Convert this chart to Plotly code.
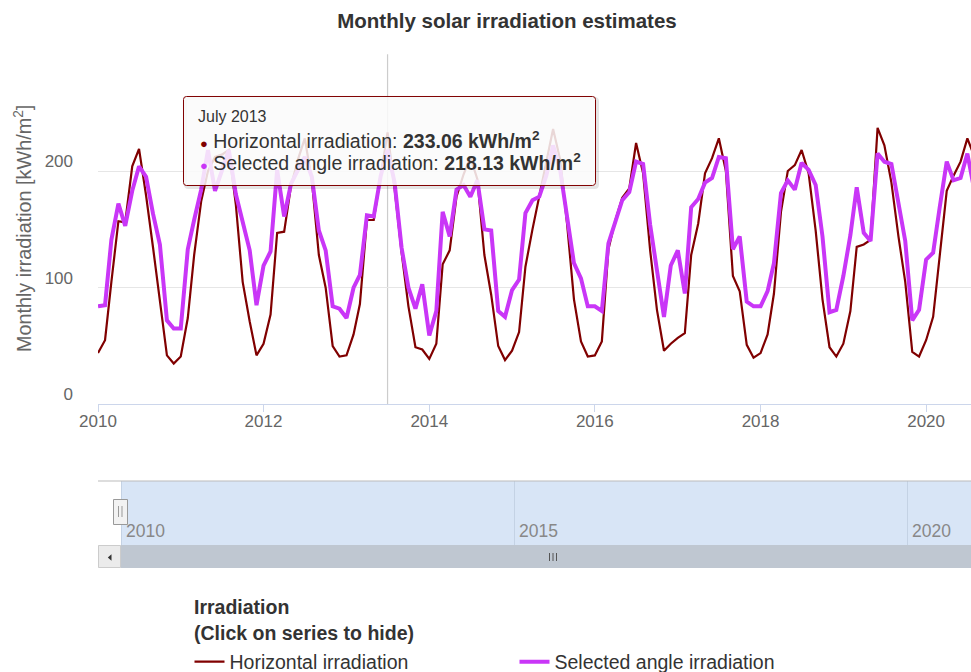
import plotly.graph_objects as go
import pandas as pd

W, H = 971, 672
OFF = 0  # body margin is removed with a post script, so window pixels == figure pixels
FONT = "Liberation Sans, Arial, Helvetica, sans-serif"

# ---------------- data ----------------
start_month = "2010-01-01"
horizontal = [
    44, 55, 105, 157, 156, 204, 219, 179, 134, 89, 42, 35,      # 2010
    41, 74, 128, 174, 200, 212, 214, 218, 171, 105, 71, 42,     # 2011
    52, 77, 147, 148, 187, 210, 228, 192, 128, 100, 50, 41,     # 2012
    42, 60, 86, 158, 158, 196, 233.06, 185, 130, 84, 49, 47,    # 2013
    39, 52, 120, 132, 178, 197, 212, 193, 128, 94, 50, 38,      # 2014
    46, 62, 118, 150, 178, 205, 236, 210, 154, 90, 54, 41,      # 2015
    42, 54, 133, 158, 177, 185, 224, 198, 132, 81, 46, 52,      # 2016
    57, 61, 128, 155, 198, 211, 228, 200, 110, 97, 51, 40,      # 2017
    44, 60, 95, 165, 200, 205, 218, 198, 149, 90, 49, 41,       # 2018
    52, 80, 135, 137, 141, 237, 222, 190, 144, 105, 45, 41,     # 2019
    55, 75, 126, 183, 196, 208, 228, 212,                       # 2020
]
selected = [
    84, 85, 141, 172, 153, 183, 204, 195, 163, 137, 72, 65,     # 2010
    65, 133, 158, 184, 218, 183, 200, 218, 180, 157, 132, 85,   # 2011
    119, 131, 201, 161, 189, 201, 212, 195, 149, 132, 84, 82,   # 2012
    74, 100, 111, 162, 161, 196, 218.13, 190, 134, 100, 82, 103,  # 2013
    59, 80, 165, 144, 184, 188, 178, 192, 150, 149, 80, 75,     # 2014
    98, 107, 164, 175, 178, 196, 222, 201, 160, 121, 108, 84,   # 2015
    84, 80, 138, 158, 175, 182, 208, 206, 154, 115, 75, 119,    # 2016
    132, 95, 169, 176, 190, 194, 212, 211, 133, 144, 88, 84,    # 2017
    84, 97, 121, 181, 192, 184, 207, 201, 188, 144, 79, 81,     # 2018
    110, 145, 186, 147, 140, 215, 208, 206, 170, 140, 72, 81,   # 2019
    124, 130, 169, 208, 192, 194, 215, 183,                     # 2020
]
months = pd.date_range(start_month, periods=len(horizontal), freq="MS")

series_names = ["Horizontal irradiation", "Selected angle irradiation"]
y_tick_values = [0, 100, 200]
nav_tick_dates = ["2010-01-01", "2015-01-01", "2020-01-01"]
nav_tick_labels = ["2010", "2015", "2020"]

hover_month = "2013-07-01"
hover_header = "July 2013"
hover_h = "233.06"
hover_s = "218.13"

C_H = "#800000"
C_S = "#c936f7"

# ---------------- helpers (window pixel -> paper) ----------------
def PX(x):
    return (x - OFF) / W

def PY(y):
    return 1 - (y - OFF) / H

def rrect_path(x0, y0, x1, y1, r):
    pts = [
        ("M", [(x0 + r, y0)]), ("L", [(x1 - r, y0)]), ("Q", [(x1, y0), (x1, y0 + r)]),
        ("L", [(x1, y1 - r)]), ("Q", [(x1, y1), (x1 - r, y1)]), ("L", [(x0 + r, y1)]),
        ("Q", [(x0, y1), (x0, y1 - r)]), ("L", [(x0, y0 + r)]), ("Q", [(x0, y0), (x0 + r, y0)]),
    ]
    s = ""
    for cmd, ps in pts:
        s += cmd + " " + " ".join(f"{PX(px):.5f},{PY(py):.5f}" for px, py in ps) + " "
    return s + "Z"

# main plot geometry (window pixels)
PLOT_L, PLOT_R = 98, 971
PLOT_T, PLOT_B = 54.3, 404.4
x_end = (pd.Timestamp(start_month) + pd.Timedelta(days=3850)).strftime("%Y-%m-%d")
# navigator geometry
NAV_T, NAV_B = 481, 545
nav_start = (pd.Timestamp(start_month) - pd.Timedelta(days=107)).strftime("%Y-%m-%d")
nav_end = (pd.Timestamp(start_month) + pd.Timedelta(days=3949)).strftime("%Y-%m-%d")

fig = go.Figure()
fig.add_trace(go.Scatter(x=months, y=horizontal, mode="lines", name=series_names[0],
                         line=dict(color=C_H, width=2.2), xaxis="x", yaxis="y"))
fig.add_trace(go.Scatter(x=months, y=selected, mode="lines", name=series_names[1],
                         line=dict(color=C_S, width=4), xaxis="x", yaxis="y"))
# empty trace to create the navigator subplot
fig.add_trace(go.Scatter(x=[months[0]], y=[None], mode="lines", showlegend=False,
                         hoverinfo="skip", xaxis="x2", yaxis="y2"))

shapes = []
# crosshair
shapes.append(dict(type="line", xref="x", yref="paper", x0=hover_month, x1=hover_month,
                   y0=PY(PLOT_B), y1=PY(PLOT_T), line=dict(color="#cccccc", width=1.2),
                   layer="between"))
# navigator mask (selected range)
shapes.append(dict(type="rect", xref="x2", yref="paper", x0=start_month, x1=nav_end,
                   y0=PY(NAV_B), y1=PY(NAV_T), fillcolor="#d8e5f6", line=dict(width=0),
                   layer="below"))
# navigator top outline
shapes.append(dict(type="line", xref="paper", yref="paper", x0=PX(98), x1=1,
                   y0=PY(NAV_T), y1=PY(NAV_T), line=dict(color="#bbbbbb", width=1)))
# navigator handle
shapes.append(dict(type="rect", xref="paper", yref="paper", x0=PX(113.5), x1=PX(127.5),
                   y0=PY(524.5), y1=PY(499.5), fillcolor="#f2f2f2",
                   line=dict(color="#999999", width=1)))
for gx in (118.5, 122.0):
    shapes.append(dict(type="line", xref="paper", yref="paper", x0=PX(gx), x1=PX(gx),
                       y0=PY(517), y1=PY(506), line=dict(color="#999999", width=1)))
# scrollbar track, thumb, button
shapes.append(dict(type="rect", xref="paper", yref="paper", x0=PX(98), x1=1,
                   y0=PY(568), y1=PY(545), fillcolor="#f2f2f2", line=dict(width=0)))
shapes.append(dict(type="rect", xref="paper", yref="paper", x0=PX(120.5), x1=1,
                   y0=PY(568), y1=PY(545), fillcolor="#bfc7d1", line=dict(width=0)))
shapes.append(dict(type="rect", xref="paper", yref="paper", x0=PX(98.5), x1=PX(120.5),
                   y0=PY(567.5), y1=PY(545.5), fillcolor="#ebebeb",
                   line=dict(color="#cccccc", width=1)))
shapes.append(dict(type="path", xref="paper", yref="paper",
                   path=f"M {PX(111.5)},{PY(554.3)} L {PX(107.8)},{PY(557.5)} L {PX(111.5)},{PY(560.7)} Z",
                   fillcolor="#333333", line=dict(width=0)))
for gx in (549.5, 553.0, 556.5):
    shapes.append(dict(type="line", xref="paper", yref="paper", x0=PX(gx), x1=PX(gx),
                       y0=PY(561), y1=PY(553), line=dict(color="#555555", width=1)))
# tooltip shadow + box
shapes.append(dict(type="path", xref="paper", yref="paper",
                   path=rrect_path(185.5, 98.5, 597.5, 187.5, 3),
                   fillcolor="rgba(0,0,0,0)", line=dict(color="rgba(0,0,0,0.10)", width=3),
                   layer="above"))
shapes.append(dict(type="path", xref="paper", yref="paper",
                   path=rrect_path(183.5, 96.5, 595.5, 185.5, 3),
                   fillcolor="rgba(250,250,250,0.86)", line=dict(color=C_H, width=1),
                   layer="above"))

ann = []
# y axis title
ann.append(dict(text="Monthly irradiation [kWh/m<sup>2</sup>]", textangle=-90,
                xref="paper", yref="paper", x=PX(22), y=PY(229), showarrow=False,
                xanchor="center", yanchor="middle", font=dict(size=19.8, color="#666666", family=FONT)))
# tooltip texts
ann.append(dict(text=hover_header, xref="paper", yref="paper", x=PX(196), y=PY(117),
                showarrow=False, xanchor="left", yanchor="middle",
                font=dict(size=16, color="#333333", family=FONT)))
ann.append(dict(text=f"<span style='color:{C_H};font-size:13px'>●</span> {series_names[0]}: <b>{hover_h} kWh/m<sup>2</sup></b>",
                xref="paper", yref="paper", x=PX(198), y=PY(140), showarrow=False,
                xanchor="left", yanchor="middle", font=dict(size=19.5, color="#333333", family=FONT)))
ann.append(dict(text=f"<span style='color:{C_S};font-size:13px'>●</span> {series_names[1]}: <b>{hover_s} kWh/m<sup>2</sup></b>",
                xref="paper", yref="paper", x=PX(198), y=PY(162), showarrow=False,
                xanchor="left", yanchor="middle", font=dict(size=19.5, color="#333333", family=FONT)))
# navigator labels
for d, lab in zip(nav_tick_dates, nav_tick_labels):
    ann.append(dict(text=lab, xref="x2", yref="paper", x=d, y=PY(531), xshift=3,
                    showarrow=False, xanchor="left", yanchor="middle",
                    font=dict(size=17.5, color="#888888", family=FONT)))
# legend title
ann.append(dict(text="<b>Irradiation</b>", xref="paper", yref="paper", x=PX(192), y=PY(607),
                showarrow=False, xanchor="left", yanchor="middle",
                font=dict(size=19.5, color="#333333", family=FONT)))
ann.append(dict(text="<b>(Click on series to hide)</b>", xref="paper", yref="paper", x=PX(192),
                y=PY(633), showarrow=False, xanchor="left", yanchor="middle",
                font=dict(size=19.5, color="#333333", family=FONT)))

fig.update_layout(
    width=W, height=H,
    margin=dict(l=0, r=0, t=0, b=0, autoexpand=False),
    paper_bgcolor="white", plot_bgcolor="white",
    font=dict(family=FONT, color="#666666"),
    title=dict(text="<b>Monthly solar irradiation estimates</b>", x=PX(507), y=PY(21),
               xanchor="center", yanchor="middle", xref="paper", yref="paper",
               font=dict(size=20.5, color="#333333", family=FONT)),
    xaxis=dict(domain=[PX(PLOT_L), PX(PLOT_R)], range=[start_month, x_end], type="date",
               anchor="y", tickformat="%Y", dtick="M24", tick0=start_month,
               ticks="outside", ticklen=7, tickcolor="#ccd6eb", showline=True,
               linecolor="#ccd6eb", linewidth=1, showgrid=False, zeroline=False,
               ticklabelstandoff=-6,
               tickfont=dict(size=17, color="#666666", family=FONT)),
    yaxis=dict(domain=[PY(PLOT_B), PY(PLOT_T)], range=[0, 300], anchor="x",
               tickvals=y_tick_values, showgrid=True, gridcolor="#e6e6e6", gridwidth=1,
               showline=False, zeroline=False, ticks="", ticklabelshift=-10,
               ticklabelstandoff=24, tickfont=dict(size=17, color="#666666", family=FONT)),
    xaxis2=dict(domain=[PX(PLOT_L), PX(PLOT_R)], range=[nav_start, nav_end], type="date",
                anchor="y2", tickvals=nav_tick_dates, showticklabels=False, ticks="",
                showgrid=True, gridcolor="#c4d2e4", showline=False, zeroline=False),
    yaxis2=dict(domain=[PY(NAV_B), PY(NAV_T)], range=[0, 1], anchor="x2", visible=False,
                showgrid=False, zeroline=False),
    showlegend=True,
    legend=dict(orientation="h", x=PX(189.5), y=PY(662), xanchor="left", yanchor="middle",
                font=dict(size=19.5, color="#333333", family=FONT),
                bgcolor="rgba(0,0,0,0)", entrywidth=280, entrywidthmode="pixels",
                itemwidth=30),
    shapes=shapes,
    annotations=ann,
    hovermode=False,
)

fig.write_html("out.html",
               config={"displayModeBar": False},
               post_script="document.body.style.margin='0';document.body.style.overflow='hidden';")
